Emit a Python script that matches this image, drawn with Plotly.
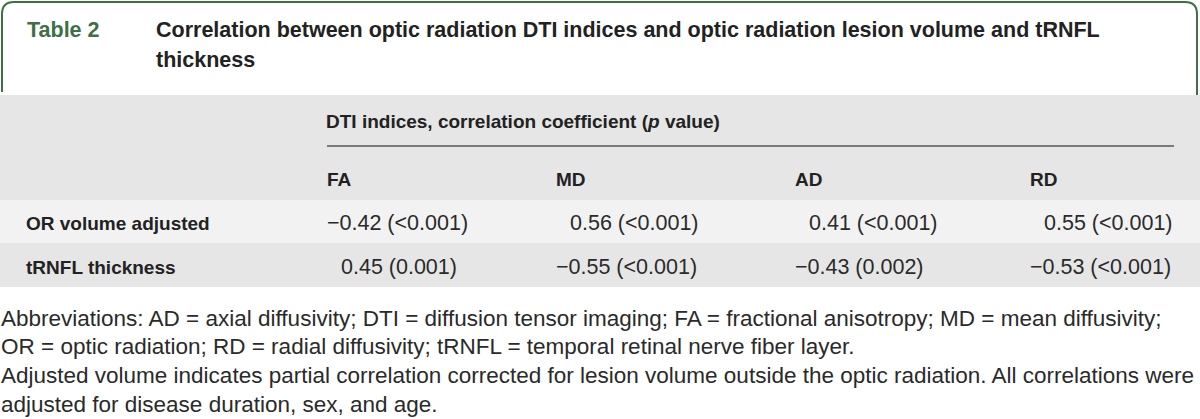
import plotly.graph_objects as go

# ---- data ----
table_label = "Table 2"
title_lines = ["Correlation between optic radiation DTI indices and optic radiation lesion volume and tRNFL",
               "thickness"]
group_header = "DTI indices, correlation coefficient (<i>p</i> value)"
columns = ["FA", "MD", "AD", "RD"]
rows = ["OR volume adjusted", "tRNFL thickness"]
coef = [[-0.42, 0.56, 0.41, 0.55],
        [0.45, -0.55, -0.43, -0.53]]
pvals = [["<0.001", "<0.001", "<0.001", "<0.001"],
         ["0.001", "<0.001", "0.002", "<0.001"]]
footnotes = [
    "Abbreviations: AD = axial diffusivity; DTI = diffusion tensor imaging; FA = fractional anisotropy; MD = mean diffusivity;",
    "OR = optic radiation; RD = radial diffusivity; tRNFL = temporal retinal nerve fiber layer.",
    "Adjusted volume indicates partial correlation corrected for lesion volume outside the optic radiation. All correlations were",
    "adjusted for disease duration, sex, and age.",
]

# ---- style ----
W, H = 1200, 419
FONT = "Liberation Sans"
GREEN = "#3e6f47"
TEXT = "#222222"
BAND = "#e6e6e6"
LIGHT = "#f2f2f2"

col_x = [327, 556, 795, 1030]
VAL_SIZE = 21.5
minus_w = 14

fig = go.Figure()
shapes = []
ann = []

# green header frame (rounded top corners, open bottom)
r = 12
shapes.append(dict(type="path",
                   path=f"M 2,92 L 2,{2+r} Q 2,2 {2+r},2 L {1197-r},2 Q 1197,2 1197,{2+r} L 1197,95",
                   line=dict(color=GREEN, width=2), xref="x", yref="y"))

# bands
shapes.append(dict(type="rect", x0=0, x1=W, y0=95, y1=200, fillcolor=BAND, line_width=0, xref="x", yref="y", layer="below"))
shapes.append(dict(type="rect", x0=0, x1=W, y0=200, y1=243, fillcolor=LIGHT, line_width=0, xref="x", yref="y", layer="below"))
shapes.append(dict(type="rect", x0=0, x1=W, y0=243, y1=287, fillcolor=BAND, line_width=0, xref="x", yref="y", layer="below"))
# rule under group header
shapes.append(dict(type="line", x0=327, x1=1174, y0=146, y1=146, line=dict(color="#7a7a7a", width=2), xref="x", yref="y"))

def text(x, y, s, size, color=TEXT, anchor="left"):
    ann.append(dict(x=x, y=y, xref="x", yref="y", text=s, showarrow=False,
                    xanchor=anchor, yanchor="middle", borderpad=0, borderwidth=0,
                    font=dict(family=FONT, size=size, color=color)))

text(27, 30, f"<b>{table_label}</b>", 21.5, GREEN)
for i, line in enumerate(title_lines):
    text(156, 30 + i * 30, f"<b>{line}</b>", 21.5)

text(326, 121, f"<b>{group_header}</b>", 19)
for cx, c in zip(col_x, columns):
    text(cx, 179, f"<b>{c}</b>", 19)

row_y = [223, 267]
for ri, (rl, ry) in enumerate(zip(rows, row_y)):
    text(26, ry, f"<b>{rl}</b>", 19)
    for ci, cx in enumerate(col_x):
        v = coef[ri][ci]
        s = (f"\u2212{abs(v):.2f}" if v < 0 else f"{v:.2f}") + " (" + pvals[ri][ci].replace("<", "&lt;") + ")"
        text(cx + (0 if v < 0 else minus_w), ry, s, VAL_SIZE, "#2a2a2a")

for i, fn in enumerate(footnotes):
    text(1, 318 + i * 28.7, fn, 22.5, "#2a2a2a")

fig.update_layout(
    width=W, height=H, margin=dict(l=0, r=0, t=0, b=0),
    paper_bgcolor="white", plot_bgcolor="white",
    xaxis=dict(range=[0, W], visible=False, fixedrange=True),
    yaxis=dict(range=[H, 0], visible=False, fixedrange=True),
    shapes=shapes, annotations=ann, showlegend=False,
)
fig.write_html("out.html", config={"displayModeBar": False},
               post_script="document.body.style.margin='0px';document.body.style.overflow='hidden';")
